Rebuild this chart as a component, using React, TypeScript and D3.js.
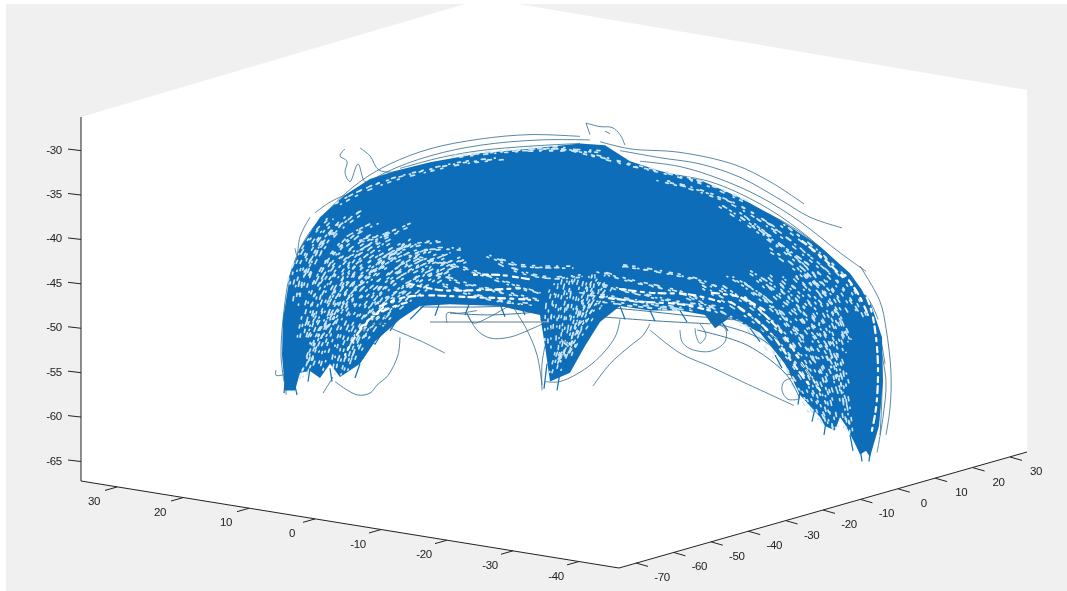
import React from "react";
import * as d3 from "d3";

const W = 1067, H = 591;
const blue = "#0A6DB8", dark = "#2F6A8C", ink = "#222", speck = "#CFE6F7";

const xTicks = [30, 20, 10, 0, -10, -20, -30, -40];
const yTicks = [-70, -60, -50, -40, -30, -20, -10, 0, 10, 20, 30];
const zTicks = [-30, -35, -40, -45, -50, -55, -60, -65];

// every trajectory: projected lateral position, height (z), ...
const massOutline = [28.5,-57,28.2,-53,28.3,-49,29,-44,30,-41,32,-37.5,34.5,-35,37,-33.2,39.5,-32.3,43,-31.3,48,-30.3,53,-29.8,58,-29.2,60.5,-29.4,63,-31.2,66,-32.3,70,-33.3,74,-35.3,78,-37.8,82,-40.8,85,-43.8,87,-47,88.2,-51,88.3,-56,87.9,-61,87,-64.5,86.6,-63.8,86,-64.2,85.5,-63,84.6,-61,84,-60,83.5,-61.5,82.5,-61,82,-60,80,-57.5,78.5,-54,76,-50.5,73,-48.8,71.5,-50,70.5,-48.5,68,-48,65,-48,62,-47.5,60,-49.3,58.5,-52,57,-55,55,-56,54.5,-52,54,-48.5,50,-47.5,45,-47.3,42,-47.5,40,-49,37.5,-51.5,36,-54,34,-55.5,33,-54,32,-55.6,31,-54.8,30,-55,29.5,-57];

const leftFan = [
  [30,-51,30.6,-48,31.5,-45,33.5,-41.5,36,-39],
  [30.4,-50.5,31.2,-48.5,32,-45.5,34.2,-42,37,-39.5],
  [30.7,-51.5,31.8,-48,33,-45,35,-42,38,-40],
  [31,-51,32.3,-48.5,33.8,-45.5,36,-42.5,39,-40],
  [30.3,-55.5,31.3,-52,33,-48.5,34.6,-45.2,37,-42.5,40,-40.5],
  [30.6,-54.5,31.8,-51,33.5,-48,35.4,-45,38,-42.5,41,-40.5],
  [31,-54,32.4,-50.5,34.2,-47.5,36.2,-45,39,-42.5,42,-41],
  [32,-54.5,33,-51,34.5,-47.5,36.5,-44.5,39,-42,41,-40],
  [33.3,-54.5,34,-51,35.2,-48,37,-45.5,40,-43,43,-41],
  [33.8,-55,34.5,-52,36,-48.5,38,-45.5,41,-43,44,-41.5],
  [34.4,-54.8,35.4,-51.5,37,-48,39,-45,42,-43,45,-41.5],
  [35,-54,36,-51,37.6,-48.5,40,-45.5,43,-43.5,46,-42],
  [35.5,-53,36.8,-50.5,38.5,-48,41,-45.5,44,-43.5,47,-42],
  [30.5,-44,32,-41,34,-38.5,36.5,-36.5],
  [31.5,-45,33,-42,35,-39.5,37.5,-38],
  [33,-47,35,-43,37,-40.5,39.5,-39],
  [30.2,-46,31,-43,32.5,-40,34.5,-37.5],
  [29.5,-47.5,30,-44.5,31,-41.5,33,-38.5],
  [37,-44,39,-41.5,41.5,-40.5,44,-40],
  [39,-44,41,-42,43,-41,46,-41],
  [36.5,-49,38,-47,39.5,-46,41.5,-44.5,43,-42.5],
  [38,-49.5,39.5,-47.8,41,-46.5,43,-45,45,-43.5],
];

const middleFan = [
  [55.2,-55,55.8,-52.5,56,-49.5,56.5,-47,57,-44.5],
  [55.5,-54,56.2,-52,56.6,-49,57,-46.5,57.6,-44],
  [55.8,-54.5,56.5,-52.5,57.2,-49.5,57.8,-47,58.5,-44],
  [56,-53.5,57,-51.5,57.8,-48.5,58.6,-46,59.5,-44],
  [56.4,-53,57.4,-51,58.4,-48,59.4,-46,60.5,-44],
  [56.8,-53,57.8,-50,59,-47.5,60.2,-45.5],
  [57.2,-52,58.5,-49.5,60,-47,61,-45],
  [54.8,-52,54.8,-49,55,-46.5,55.5,-44.8],
  [55.3,-50,55.5,-48,55.9,-46,56.3,-44],
  [58,-49,58.5,-47.5,59,-45.5,59.2,-44],
];

const rightFan = [
  [80,-43,83.2,-47.5,84.8,-51.5],
  [79,-43.5,82.5,-48,84.3,-52.5],
  [78,-44,81.5,-48,83.8,-53,84.6,-56],
  [77,-44,81,-48.5,83.5,-53,84.6,-58,85,-62],
  [76,-44.5,80,-49,83,-54,84.3,-58,84.7,-61],
  [74,-44.5,78.5,-49,81.5,-54,83,-58,83.6,-61.5],
  [72,-45,77.5,-49.5,80.5,-54,82.2,-58,83,-61],
  [70,-45,76,-49.5,79.5,-54,81.5,-58,82.5,-60.5],
  [68,-46,75,-50,78.5,-54.5,80.5,-58,81.5,-60],
  [73,-44,76.5,-46.5,79.5,-50,82,-54,83,-57],
  [75,-43.5,78.5,-46.2,81,-49.5,83,-53,84,-57],
  [78,-38,82,-41.5,85,-45,86.6,-48.5],
  [76,-37.5,80,-41,83.5,-44.5,85.6,-48],
  [74,-37,78,-40.5,82,-44,84.5,-48],
  [72,-36,76,-39,80,-42.5,83,-46],
  [77,-41,80,-43.5,83,-47,84.8,-51],
  [66,-33.2,70,-34.4,74,-36.2,78,-39],
  [63,-31.5,67,-32.5,71,-33.8,75,-35.8],
];

const centralSpecks = [
  [42,-42,46,-43,50,-44.5,54,-46],
  [43,-43.5,47,-45,51,-46,54,-46.8],
  [44,-44.8,47,-46,50,-46.8,53,-47.2],
  [50,-42.5,52,-43.5,55,-44.2,58,-44],
  [49,-41.8,52,-42.8,55,-43,57,-43],
  [60,-43.5,63,-44.5,67,-45.5,70,-46.5],
  [62,-42.8,66,-43.5,70,-44.5,73,-46],
  [60,-45,64,-46,68,-47,72,-47.5],
  [58,-46,62,-46.5,66,-47.3,69,-47.8],
  [60,-46.8,64,-47.4,68,-47.8],
  [33.5,-36,36,-34.5,39,-33.2,42,-32.3,46,-31.3,50,-30.8],
  [45,-30.6,50,-30,55,-29.8,60,-30],
  [52,-29.8,56,-29.6,60,-30.6,63,-31.5],
  [29,-45,29.5,-43,31,-40,33,-37.5],
  [36,-40,38,-39.5,41,-38.2],
];

const edgeSpecks = [
  [38,-47.5,40.5,-46.5,43,-46.3,47,-46.5,50,-46.6,53,-46.8],
  [41,-45,44,-45.7,48,-45.7,52,-45.5],
  [47,-44,50,-44,53,-44.5],
  [60,-46.5,64,-47,68,-47.3,71,-48],
  [61.5,-45.5,65,-46,69,-46.2,72,-47],
  [73,-47,75,-48.5,77,-50.5,79,-53.5,81,-56.5],
  [74.5,-46.5,76.5,-48.5,78.5,-51,80.5,-54.5,82,-57],
  [71,-46,74,-46.5,76.5,-48],
  [36,-50,37.5,-48.5,39.5,-47.5,41,-47],
  [34.5,-53,35.5,-51,37,-49,38.5,-47.5],
  [85.8,-44.5,87,-47.5,87.6,-51,87.8,-55,87.6,-59,87.1,-62],
  [84.5,-44,85.9,-46.3,86.8,-48.5],
  [80,-40,82.5,-42.3,84.5,-44.5],
];

const fringe = [
  [28.6,-55,28.4,-57.3],[29.5,-56.5,29.7,-57.5],[36,-54,35.5,-55.6],[33,-54.5,33.2,-56],[31,-54.5,30.8,-56],
  [44,-47,43.5,-48.6],[47,-47,46.5,-48.5],[50,-47.3,50.5,-48.7],[42.5,-47.3,41,-49],[52,-47.3,52.5,-48.5],
  [38.5,-50,37.5,-51.8,36.5,-51],[40,-48.5,39,-50.3],[54.7,-54,54.4,-56.8],[56,-55,55.7,-57],
  [62,-47.5,62.5,-49],[65,-48,65.5,-49.2],[68,-48,68.7,-49.3],[72,-49,72.8,-50.3],[75,-50,76,-51.5],
  [77.5,-53,78.2,-54.5],[80,-57,79.8,-58.6],[81.5,-59,81.2,-60.5],[82.6,-60.5,82.4,-62],[85,-62,85.3,-63.8],[86,-63.5,86.2,-65],[87,-64,86.9,-65],
];

const lowerBand = [
  [42,-47.6,48,-47.6,53,-47.4],
  [45,-48.3,49,-48.5,53.5,-48.2],
  [60,-47.6,64,-48,69,-48.6,73,-49],
  [60,-48.7,66,-49.2,71,-49.5],
  [71,-49.3,74.7,-50.5,77,-51.9,79.3,-55.3],
  [69.7,-50.2,74.7,-51.9,78.7,-55.3,80,-58],
  [71,-48.6,75,-49.5,78,-51.5,80.5,-54.5,81.5,-56.5],
];

const arches = [
  [28.4,-56,28.1,-53,28.4,-48,29,-44,30.5,-40,33,-36.5,36,-33.5,39,-31.5,43,-29.8,48,-28.7,53,-28.2,58,-28.4],
  [28.8,-56,28.5,-52,29,-46,30,-42,32,-38,35,-35,38.5,-32.5,43,-30.6,48,-29.4,54,-28.8,59,-28.8],
  [40,-32,44,-30.8,48,-30,53,-29.5,58,-29.2],
  [39,-33,44,-31.5,49,-30.6,54,-30,58,-29.5],
  [60,-29,63,-29.8,68,-30.2,73.5,-31.6,77,-33.5,80.4,-36],
  [62,-30,66,-30.8,70,-31.5,74,-33,78,-35.5,81,-37.5,84.2,-38.7],
  [64,-31.2,68,-31.8,72,-33.2,76,-35.2,80,-38,84,-41.5,86.6,-43.6],
  [66,-32.5,71,-33.5,76,-36,80,-39,84,-43,87,-47,87.8,-49],
  [72,-34.8,77,-37.2,81,-40,85,-44.5,87.5,-49,88.5,-54],
  [86,-43,88,-47,88.6,-50,89.1,-55,89,-59,88.6,-62],
  [88,-52,88.6,-56,88.3,-60,87.7,-64],
  [84,-43.5,86.5,-47,87.8,-50.5,88.2,-56,88,-62],
];

const strays = [
  [37.4,-49,39.5,-50.2,42,-51.4,44.5,-52.8],
  [40,-51,39.8,-53,38.8,-55.3,37.7,-56.4,37,-57.3,35.7,-57.5,33.5,-56],
  [32.3,-57.3,33.3,-55.5],
  [59.3,-56.5,61,-54,63,-52,64.3,-50.8,65,-49.5],
  [65,-50.2,68,-52.8,71,-54.3,74.2,-56,79.4,-58.7],
  [54.2,-57,54.2,-54,54.5,-52],
  [54.5,-56,56,-56,59.2,-54,61.5,-51,62,-49],
  [68,-50.2,68.2,-51.5,69,-52.3,71,-52.6,72.5,-51.5,72.5,-50,71,-49.4],
  [69.5,-50,69.6,-50.8,70,-51.7,70.6,-50.8,70,-49.5],
  [79.2,-55.6,78.4,-56,78.2,-57,78.8,-58,79.8,-58],
  [78.6,-55.2,79.6,-55.3,80,-55.8,79.5,-56.2],
  [34.5,-29.8,34,-30.6,34.7,-31.2,34.5,-32.5,35,-33.5,35.8,-31.5,36.5,-33.5,37.4,-33.3],
  [36,-29.7,37,-30.6,37.9,-32.2,40,-32.4],
  [31.5,-37,33,-35.8,34.5,-35],
  [29.5,-41,29.7,-41.8,30,-39.7,31,-37.5],
  [58.6,-26.9,59,-28.2],
  [58.6,-26.9,60,-27.3,61.2,-27.4,62,-28.2,62.5,-29.4],
  [60.5,-27.8,61,-28.1],
  [27.6,-54.7,27.6,-55.3,28.5,-55.2],
  [28.6,-57.5,28.6,-56.5],
  [44.7,-49.4,44.7,-48.3,46,-48.3,47.7,-48],
  [46.7,-48.3,47.7,-50.2,49,-51.1,51,-51,53.3,-50,54.7,-49.3],
  [50.7,-47.6,49,-48.7,47.3,-49.4,46.7,-48.3],
  [51.3,-47.6,52.7,-50.2,53.7,-53,54.2,-56.4],
  [54,-49,55,-50,56.5,-51.5,58,-53],
  [36,-48,37,-48.5,38.5,-48.7,39,-49.6,37.5,-49.5,36,-50.6],
];

const greyLines = [[43,-49.3,49,-49.3,54.7,-49.3]];

const px = d3.scaleLinear().domain([0, 100]).range([0, 1000]);
const pz = d3.scaleLinear().domain([-30, -65]).range([150.6, 461.5]);

// axis scales: tick value -> position along the box edge
const xAxisX = d3.scaleLinear().domain([30, -40]).range([117, 579]);
const xAxisY = d3.scaleLinear().domain([30, -40]).range([487, 561.5]);
const yAxisX = d3.scaleLinear().domain([-70, 30]).range([636, 1010]);
const yAxisY = d3.scaleLinear().domain([-70, 30]).range([563, 457]);

const pairs = (flat: number[]) => d3.range(0, flat.length, 2).map((i) => [px(flat[i]), pz(flat[i + 1])] as [number, number]);
const smooth = d3.line().curve(d3.curveCatmullRom.alpha(0.5));
const straight = d3.line();
const closed = d3.line().curve(d3.curveLinearClosed);
const dashes = ["3 8 2 11 4 7 1 9", "2 10 3 7 5 12 2 8", "4 9 1 8 3 6 2 13", "3 7 2 12 4 10 1 6"];
const passes = [[0, 0, 0], [3, 2, 5], [-3, 1.5, 11]];

const font = "'Liberation Sans', Arial, sans-serif";

export default function App() {
  const label = (t: number, x: number, y: number) => (
    <text key={`${t}-${x}`} x={x} y={y} textAnchor="middle" dominantBaseline="central" fontFamily={font} fontSize={11.5} letterSpacing={-0.4} fill={ink}>{t}</text>
  );
  const specks = (set: number[][], sw: number) => passes.map(([dx, dy, off], p) => (
    <g key={p} transform={`translate(${dx},${dy})`}>
      {set.map((a, i) => (
        <path key={i} d={smooth(pairs(a))!} fill="none" stroke={speck} strokeWidth={sw} strokeLinecap="round" strokeDashoffset={off + i * 3} strokeDasharray={dashes[(i + p) % dashes.length]} />
      ))}
    </g>
  ));
  return (
    <svg width={W} height={H} style={{ position: "absolute", left: 0, top: 0 }}>
      <defs>
        <filter id="soft" x="0" y="0" width="100%" height="100%"><feGaussianBlur stdDeviation="0.4" /></filter>
      </defs>
      <rect width={W} height={H} fill="#fff" />
      <rect x={6} y={4} width={1061} height={587} fill="#F0F0F0" />
      <polygon points="81,117 465,4 518,4 1027,90 1027,452 619,568 81,481" fill="#fff" />
      <g filter="url(#soft)">
        {arches.map((a, i) => <path key={i} d={smooth(pairs(a))!} fill="none" stroke={dark} strokeWidth={0.8} />)}
        <path d={closed(pairs(massOutline))!} fill={blue} />
        {specks(leftFan, 1.7)}
        {specks(middleFan, 1.6)}
        {specks(rightFan, 1.7)}
        {specks(centralSpecks, 1.7)}
        {edgeSpecks.map((a, i) => <path key={i} d={smooth(pairs(a))!} fill="none" stroke="#fff" strokeWidth={2.2} strokeLinecap="round" strokeDasharray="7 5 3 6 5 4" strokeDashoffset={i * 4} />)}
        {fringe.map((a, i) => <path key={i} d={straight(pairs(a))!} fill="none" stroke={blue} strokeWidth={1.2} />)}
        {lowerBand.map((a, i) => <path key={i} d={smooth(pairs(a))!} fill="none" stroke={dark} strokeWidth={0.9} />)}
        {greyLines.map((a, i) => <path key={i} d={straight(pairs(a))!} fill="none" stroke="#9AA6AE" strokeWidth={1.6} />)}
        {strays.map((a, i) => <path key={i} d={smooth(pairs(a))!} fill="none" stroke={dark} strokeWidth={0.8} />)}

        <g stroke={ink} strokeWidth={1} fill="none">
          <line x1={81} y1={117} x2={81} y2={481} />
          <line x1={81} y1={481} x2={619} y2={568} />
          <line x1={619} y1={568} x2={1027} y2={452} />
          {zTicks.map((t) => <line key={t} x1={68} y1={pz(t) - 1.5} x2={81} y2={pz(t)} />)}
          {xTicks.map((t) => <line key={t} x1={xAxisX(t)} y1={xAxisY(t)} x2={xAxisX(t) - 12} y2={xAxisY(t) + 3.4} />)}
          {yTicks.map((t) => <line key={t} x1={yAxisX(t)} y1={yAxisY(t)} x2={yAxisX(t) + 12} y2={yAxisY(t) + 3.4} />)}
        </g>
        {zTicks.map((t) => label(t, 54, pz(t) - 1))}
        {xTicks.map((t) => label(t, xAxisX(t) - 23, xAxisY(t) + 14))}
        {yTicks.map((t) => label(t, yAxisX(t) + 26, yAxisY(t) + 14))}
      </g>
    </svg>
  );
}
